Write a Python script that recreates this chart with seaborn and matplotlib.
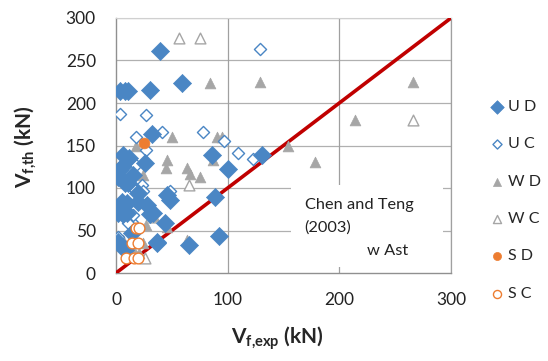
import matplotlib
matplotlib.use("Agg")
import matplotlib.pyplot as plt
from matplotlib.patches import Rectangle
import seaborn as sns
import pandas as pd

# ---- data ----
ud_x = [39, 59, 30, 4, 8, 11, 32, 86, 131, 100, 89, 92, 37, 65,
        6, 12, 26, 5, 15, 2, 8, 11, 20, 46, 5, 10, 20, 28, 48, 30, 6, 10, 2,
        44, 14, 2, 37, 8, 33, 3]
ud_y = [261, 224, 215, 214, 214, 214, 163, 139, 139, 122, 89, 44, 35, 33,
        139, 135, 129, 125, 115, 113, 106, 106, 94, 92, 84, 82, 84, 80, 86, 70, 70, 71, 71,
        59, 47, 37, 37, 27, 71, 121]
uc_x = [129, 4, 27, 41, 78, 18, 97, 27, 18, 109, 123, 23, 24, 48, 17, 14, 15, 2, 11]
uc_y = [264, 187, 186, 166, 166, 160, 155, 145, 127, 141, 134, 104, 96, 96, 98, 60, 68, 42, 59]
wd_x = [84, 129, 266, 214, 154, 178, 50, 90, 95, 46, 45, 64, 75, 66, 24, 87, 18,
        33, 27, 64, 24, 14, 21, 6, 46]
wd_y = [223, 225, 225, 180, 149, 131, 160, 160, 160, 133, 124, 124, 113, 117, 115, 133, 149,
        67, 56, 39, 35, 31, 23, 39, 54]
wc_x = [56, 75, 266, 65, 34, 26]
wc_y = [276, 276, 180, 103, 66, 18]
sd_x = [25]
sd_y = [153]
sc_x = [18, 21, 14, 20, 9, 16, 20]
sc_y = [53, 53, 35, 35, 18, 18, 18]
line_x = [0, 300]
line_y = [0, 300]
ticks = [0, 50, 100, 150, 200, 250, 300]

blue = "#4a86c4"
gray = "#a6a6a6"
orange = "#ed7d31"
red = "#c00000"

sns.set_style("white")
plt.rcParams["font.family"] = ["Lato", "DejaVu Sans"]
plt.rcParams["mathtext.fontset"] = "custom"
plt.rcParams["mathtext.bf"] = "Lato:bold"
plt.rcParams["mathtext.rm"] = "Lato"

fig = plt.figure(figsize=(5.48, 3.61), dpi=100)
ax = fig.add_axes([116/548, 1 - 273/361, 335/548, 255/361])

# grid
for t in ticks[1:]:
    ax.axhline(t, color="#b0b0b0", lw=0.9, zorder=0)
for t in [100, 200, 300]:
    ax.axvline(t, color="#a0a0a0", lw=0.9, zorder=0)

# white box behind the annotation
ax.add_patch(Rectangle((157, 7), 136, 96, facecolor="white", edgecolor="none", zorder=1))

sns.lineplot(x=line_x, y=line_y, color=red, lw=2.6, ax=ax, zorder=3)

def sc(x, y, marker, s, color, filled, label):
    df = pd.DataFrame({"x": x, "y": y})
    if filled:
        sns.scatterplot(data=df, x="x", y="y", marker=marker, s=s, color=color,
                        edgecolor=color, linewidth=0.5, ax=ax, label=label, zorder=4)
    else:
        sns.scatterplot(data=df, x="x", y="y", marker=marker, s=s, facecolor="white",
                        edgecolor=color, linewidth=1.0, ax=ax, label=label, zorder=4)

sc(wc_x, wc_y, "^", 60, gray, False, "W C")
sc(wd_x, wd_y, "^", 60, gray, True, "W D")
sc(uc_x, uc_y, "D", 38, blue, False, "U C")
sc(ud_x, ud_y, "D", 85, blue, True, "U D")
sc(sc_x, sc_y, "o", 60, orange, False, "S C")
sc(sd_x, sd_y, "o", 60, orange, True, "S D")

ax.set_xlim(0, 300)
ax.set_ylim(0, 300)
ax.set_xticks([0, 100, 200, 300])
ax.set_yticks(ticks)
ax.tick_params(axis="both", labelsize=12.5, length=4, color="#a0a0a0", direction="out",
               labelcolor="#222222")
ax.tick_params(axis="y", pad=10.5)
ax.tick_params(axis="x", pad=10)
for side in ["left", "bottom"]:
    ax.spines[side].set_color("#909090")
    ax.spines[side].set_linewidth(1.0)
ax.spines["top"].set_color("#d0d0d0")
ax.spines["right"].set_color("#a0a0a0")
ax.spines["right"].set_linewidth(0.9)

ax.set_xlabel(r"$\mathbf{V_{f{,}exp}}$ (kN)", fontsize=15, fontweight="bold")
ax.set_ylabel(r"$\mathbf{V_{f{,}th}}$ (kN)", fontsize=15, fontweight="bold")
ax.xaxis.set_label_coords(0.483, -0.2)
ax.yaxis.set_label_coords(-0.233, 0.496)

ax.text(169, 80, "Chen and Teng", fontsize=11.8, color="#222222", va="center", ha="left", zorder=2)
ax.text(169, 53, "(2003)", fontsize=11.8, color="#222222", va="center", ha="left", zorder=2)
ax.text(225, 26, "w Ast", fontsize=11.8, color="#222222", va="center", ha="left", zorder=2)

h, l = ax.get_legend_handles_labels()
order = ["U D", "U C", "W D", "W C", "S D", "S C"]
hh = [h[l.index(o)] for o in order]
ax.legend(hh, order, loc="upper left", bbox_to_anchor=(1.085, 0.704), frameon=False,
          fontsize=11.5, labelspacing=1.45, handletextpad=0.0, handlelength=1.4,
          borderaxespad=0, markerscale=0.75)

fig.savefig("out.png", dpi=100)
